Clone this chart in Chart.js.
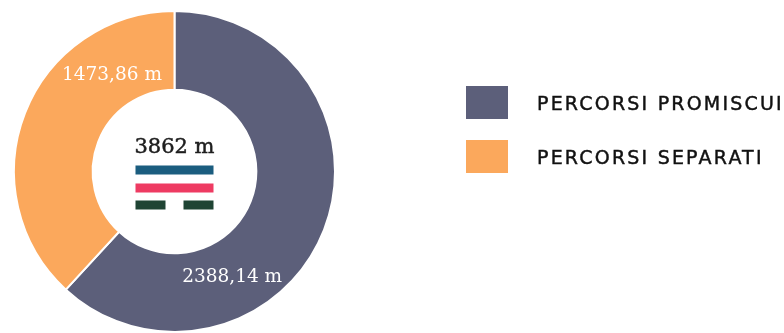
<!DOCTYPE html>
<html>
<head>
<meta charset="utf-8">
<script src="https://cdn.jsdelivr.net/npm/chart.js@4/dist/chart.umd.min.js"></script>
<style>
  html, body { margin: 0; padding: 0; background: #fff; }
  #wrap { position: relative; width: 784px; height: 333px; overflow: hidden; }
  #chart { position: absolute; left: 0; top: 0; }
  #legend { position: absolute; left: 466px; top: 86px; margin: 0; padding: 0; list-style: none; }
  #legend li { display: flex; align-items: center; height: 33px; margin-bottom: 21px; white-space: nowrap; }
  #legend .box { width: 42px; height: 33px; margin-right: 29px; flex: none; }
  #legend .txt { font-family: "DejaVu Sans", sans-serif; font-size: 19px; letter-spacing: 2.2px; color: #111; -webkit-text-stroke: 0.45px #111; }
</style>
</head>
<body>
<div id="wrap">
  <canvas id="chart" width="784" height="333"></canvas>
  <ul id="legend"></ul>
</div>
<script>
const labels = ["PERCORSI PROMISCUI", "PERCORSI SEPARATI"];
const values = [2388.14, 1473.86];
const colors = ["#5c5f7a", "#fba85c"];
const totalText = "3862 m";

// where each value label sits: along the slice (0 = start, 1 = end) and across the ring (0 = inner, 1 = outer)
const labelPos = [0.68, 0.76];
const labelRad = [0.49, 0.42];

const fmtM = (n) => n.toLocaleString("it-IT", { minimumFractionDigits: 2, useGrouping: false }) + " m";

// valori sulle fette + totale con le tre corsie al centro
const centerPlugin = {
  id: "centerPlugin",
  afterDatasetsDraw(chart) {
    const ctx = chart.ctx;
    const arcs = chart.getDatasetMeta(0).data;
    if (!arcs.length) return;
    const { x, y, innerRadius, outerRadius } = arcs[0];

    ctx.save();
    ctx.textAlign = "center";
    ctx.textBaseline = "middle";

    ctx.font = "18.5px 'DejaVu Serif', serif";
    ctx.fillStyle = "#fff";
    arcs.forEach((a, i) => {
      const ang = a.startAngle + labelPos[i] * (a.endAngle - a.startAngle);
      const r = innerRadius + labelRad[i] * (outerRadius - innerRadius);
      ctx.fillText(fmtM(values[i]), x + Math.cos(ang) * r, y + Math.sin(ang) * r);
    });

    ctx.font = "21px 'DejaVu Serif', serif";
    ctx.fillStyle = "#1e1e1e";
    ctx.strokeStyle = "#1e1e1e";
    ctx.lineWidth = 0.5;
    ctx.fillText(totalText, x, y - 24);
    ctx.strokeText(totalText, x, y - 24);

    // corsie
    const w = 78, h = 9, left = x - 39;
    ctx.fillStyle = "#1b5d7f";
    ctx.fillRect(left, y - 6, w, h);
    ctx.fillStyle = "#ee3b62";
    ctx.fillRect(left, y + 12, w, h);
    ctx.fillStyle = "#1f4434";
    ctx.fillRect(left, y + 29, 30, h);
    ctx.fillRect(left + 48, y + 29, 30, h);
    ctx.restore();
  }
};

const chart = new Chart(document.getElementById("chart"), {
  type: "doughnut",
  data: {
    labels,
    datasets: [{
      data: values,
      backgroundColor: colors,
      borderColor: "#fff",
      borderWidth: 2
    }]
  },
  options: {
    responsive: false,
    animation: false,
    cutout: "51%",
    layout: { padding: { left: 13, top: 10, right: 448, bottom: 0 } },
    plugins: {
      legend: { display: false },
      tooltip: { enabled: false }
    }
  },
  plugins: [centerPlugin]
});

// legenda in HTML
const legendEl = document.getElementById("legend");
labels.forEach((lab, i) => {
  const li = document.createElement("li");
  li.innerHTML = `<span class="box" style="background:${colors[i]}"></span><span class="txt">${lab}</span>`;
  legendEl.appendChild(li);
});
</script>
</body>
</html>
